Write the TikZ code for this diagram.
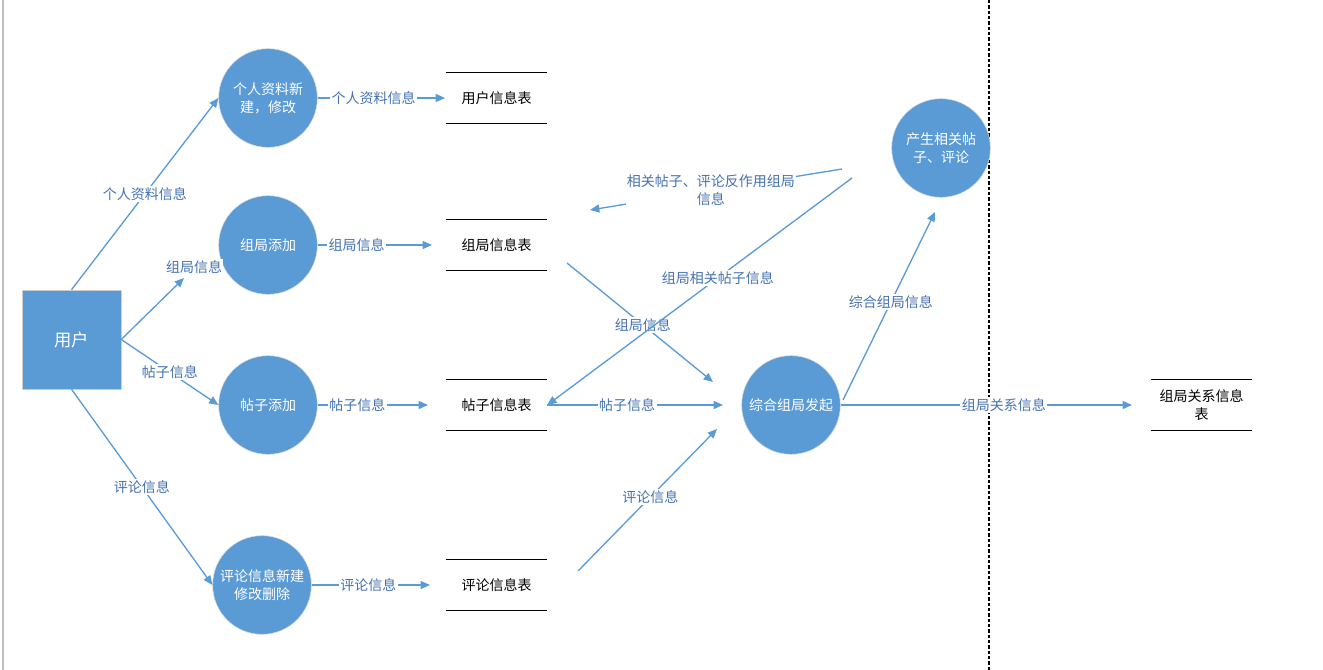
\documentclass[tikz,border=0pt]{standalone}
\usepackage{fontspec}
\setmainfont{Noto Sans CJK SC}
\usetikzlibrary{calc, arrows.meta}
\definecolor{flowblue}{RGB}{91,155,213}
\definecolor{labelblue}{RGB}{68,114,176}
\newcommand{\dfdfont}{\fontsize{10.5}{13.5}\selectfont}

\begin{document}
\begin{tikzpicture}[x=0.75pt, y=-0.75pt,
  user/.style={rectangle, fill=flowblue, draw=gray!40, minimum size=74.25pt,
    inner sep=0pt, text=white, font=\fontsize{13}{16}\selectfont},
  proc/.style={circle, fill=flowblue, draw=gray!30, minimum size=74pt,
    inner sep=0pt, text=white, align=center, font=\dfdfont},
  store/.style={minimum width=75.75pt, minimum height=37.5pt, inner sep=0pt,
    align=center, font=\dfdfont},
  storeline/.style={black, line width=0.8pt},
  flow/.style={flowblue, line width=1pt, -{Triangle[length=7pt, width=6pt]}},
  lbl/.style={fill=white, text=labelblue, inner sep=1pt, align=center, font=\dfdfont},
]
  \useasboundingbox (0,0) rectangle (1323,670);
  \draw[gray!50, line width=0.8pt] (3,0) -- (3,670);
  \draw[black, line width=0.8pt, dash pattern=on 2.5pt off 1.5pt] (989,0) -- (989,670);

  % external entity and processes
  \node[user] (U) at (71.5,339.5) {用户};
  \node[proc] (P1) at (268,98)  {个人资料新\\建，修改};
  \node[proc] (P2) at (268,245) {组局添加};
  \node[proc] (P3) at (268,405) {帖子添加};
  \node[proc] (P4) at (262,585) {评论信息新建\\修改删除};
  \node[proc] (P5) at (791,405) {综合组局发起};
  \node[proc] (P6) at (941,148) {产生相关帖\\子、评论};

  % data stores
  \node[store] (S1) at (496.5,98)   {用户信息表};
  \node[store] (S2) at (496.5,245)  {组局信息表};
  \node[store] (S3) at (496.5,405)  {帖子信息表};
  \node[store] (S4) at (496.5,585)  {评论信息表};
  \node[store] (S5) at (1201.5,405) {组局关系信息\\表};
  \foreach \s in {S1,S2,S3,S4,S5} {
    \draw[storeline] (\s.north west) -- (\s.north east);
    \draw[storeline] (\s.south west) -- (\s.south east);
  }

  % free ends
  \coordinate (gjTip) at (184,278);
  \coordinate (S1in) at (445,98);
  \coordinate (S2in) at (432,245);
  \coordinate (S3in) at (428,405);
  \coordinate (S4in) at (430,585);
  \coordinate (S2out) at (567,263);
  \coordinate (P5inA) at (713,382);
  \coordinate (P5inB) at (723,405);
  \coordinate (S4out) at (578,571);
  \coordinate (P5inC) at (717,429);
  \coordinate (P5up) at (843,400);
  \coordinate (P6in) at (935,212);
  \coordinate (S5in) at (1132,405);
  \coordinate (P6outA) at (852,178);
  \coordinate (P6outB) at (842,169);
  \coordinate (fbTip) at (590,210);

  % flows from user
  \draw[flow] (U.north) -- node[lbl, pos=0.5] {个人资料信息} (P1.west);
  \draw[flow] (U.east) -- (gjTip) node[lbl, pos=1, shift={(10,-11)}] {组局信息};
  \draw[flow] (U.east) -- node[lbl, pos=0.5] {帖子信息} (P3.west);
  \draw[flow] (U.south) -- node[lbl, pos=0.5] {评论信息} (P4.west);

  % flows into stores
  \draw[flow] (P1.east) -- node[lbl, pos=0.44] {个人资料信息} (S1in);
  \draw[flow] (P2.east) -- node[lbl, pos=0.34] {组局信息} (S2in);
  \draw[flow] (P3.east) -- node[lbl, pos=0.36] {帖子信息} (S3in);
  \draw[flow] (P4.east) -- node[lbl, pos=0.48] {评论信息} (S4in);

  % flows into the combining process
  \draw[flow] (S2out) -- node[lbl, pos=0.52] {组局信息} (P5inA);
  \draw[flow] (S3.east) -- node[lbl, pos=0.455] {帖子信息} (P5inB);
  \draw[flow] (S4out) -- node[lbl, pos=0.52] {评论信息} (P5inC);

  % outputs
  \draw[flow] (P5up) -- node[lbl, pos=0.52] {综合组局信息} (P6in);
  \draw[flow] (P5.east) -- node[lbl, pos=0.56] {组局关系信息} (S5in);
  \draw[flow] (P6outA) -- node[lbl, pos=0.44] {组局相关帖子信息} (S3.east);
  \draw[flow] (P6outB) -- node[lbl, pos=0.52] {相关帖子、评论反作用组局\\信息} (fbTip);
\end{tikzpicture}
\end{document}
